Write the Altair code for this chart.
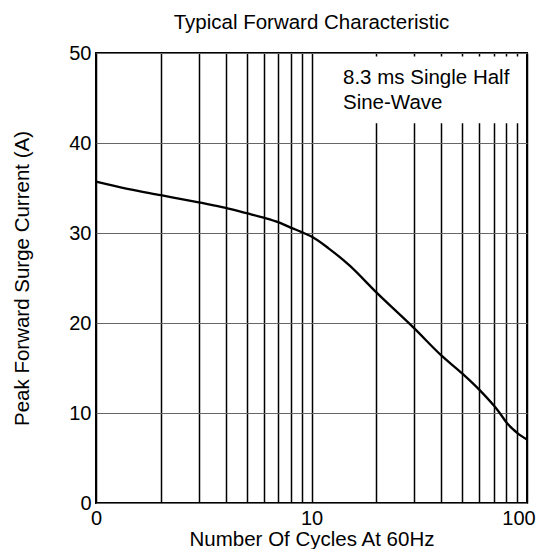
import altair as alt
import pandas as pd

# ---- data ----
cycles = [1, 1.4, 2, 3, 4, 5, 6, 7, 8, 9, 10, 12, 15, 20, 30, 40, 50, 60, 70, 75, 80, 86, 90, 100]
current = [35.7, 34.9, 34.2, 33.4, 32.8, 32.2, 31.7, 31.2, 30.6, 30.1, 29.6, 28.3, 26.4,
           23.4, 19.4, 16.4, 14.4, 12.6, 10.85, 9.95, 9.0, 8.2, 7.8, 7.05]

x_grid = [1, 2, 3, 4, 5, 6, 7, 8, 9, 10, 20, 30, 40, 50, 60, 70, 80, 90, 100]
y_ticks = [0, 10, 20, 30, 40, 50]

note_lines = ["8.3 ms Single Half", "Sine-Wave"]
note_x = [14.0, 14.0]
note_y = [46.52, 43.74]
box_x = [12.9, 96.8]
box_y = [42.2, 49.6]

FONT = "Liberation Sans"
X_TITLE = "Number Of Cycles At 60Hz"
Y_TITLE = "Peak Forward Surge Current (A)"

df = pd.DataFrame({"cycles": cycles, "current": current})
note_df = pd.DataFrame({"x": note_x, "y": note_y, "t": note_lines})
box_df = pd.DataFrame({"x0": [box_x[0]], "x1": [box_x[1]], "y0": [box_y[0]], "y1": [box_y[1]]})

xscale = alt.Scale(type="log", domain=[1, 100], nice=False)
yscale = alt.Scale(domain=[0, 50], nice=False)

xaxis = alt.Axis(
    values=x_grid,
    labelExpr="datum.value == 1 ? '0' : datum.value == 10 ? '10' : datum.value == 100 ? '100' : ''",
    labelOverlap=False,
    labelFlush=False,
    labelFontSize=20,
    labelColor="black",
    labelPadding=5,
    labelOffset={"condition": {"test": "datum.value == 100", "value": -8.5}, "value": 0},
    ticks=False,
    tickSize=0,
    domain=False,
    grid=True,
    gridColor="black",
    gridWidth=1.5,
    gridOpacity=1,
    titleFontSize=20.5,
    titleFontWeight="normal",
    titleColor="black",
    titleY=42,
    titleBaseline="alphabetic",
)
yaxis = alt.Axis(
    values=y_ticks,
    labelFontSize=20,
    labelColor="black",
    labelPadding=5,
    ticks=False,
    tickSize=0,
    domain=False,
    grid=True,
    gridColor="#666666",
    gridWidth=1,
    gridOpacity=1,
    titleFontSize=20.5,
    titleFontWeight="normal",
    titleColor="black",
    titleX=-68,
    titleBaseline="alphabetic",
)

line = alt.Chart(df).mark_line(color="black", strokeWidth=2.3, interpolate="monotone").encode(
    x=alt.X("cycles:Q", scale=xscale, axis=xaxis, title=X_TITLE),
    y=alt.Y("current:Q", scale=yscale, axis=yaxis, title=Y_TITLE),
)

box = alt.Chart(box_df).mark_rect(fill="white").encode(
    x=alt.X("x0:Q", scale=xscale, axis=xaxis, title=X_TITLE),
    x2="x1:Q",
    y=alt.Y("y0:Q", scale=yscale, axis=yaxis, title=Y_TITLE),
    y2="y1:Q",
)

note = alt.Chart(note_df).mark_text(
    align="left", baseline="alphabetic", fontSize=20.5, font=FONT, color="black"
).encode(
    x=alt.X("x:Q", scale=xscale, axis=xaxis, title=X_TITLE),
    y=alt.Y("y:Q", scale=yscale, axis=yaxis, title=Y_TITLE),
    text="t:N",
)

chart = alt.layer(box, line, note).properties(
    width=431,
    height=450,
    title=alt.TitleParams(
        "Typical Forward Characteristic",
        fontSize=20.5,
        fontWeight="normal",
        font=FONT,
        color="black",
        anchor="middle",
        offset=9.5,
    ),
    autosize=alt.AutoSizeParams(type="none"),
    padding={"left": 88, "top": 45, "right": 9, "bottom": 46},
).configure(
    font=FONT,
).configure_view(
    stroke="black",
    strokeWidth=2,
)

chart.save("out.html", embed_options={"renderer": "svg", "actions": False})
